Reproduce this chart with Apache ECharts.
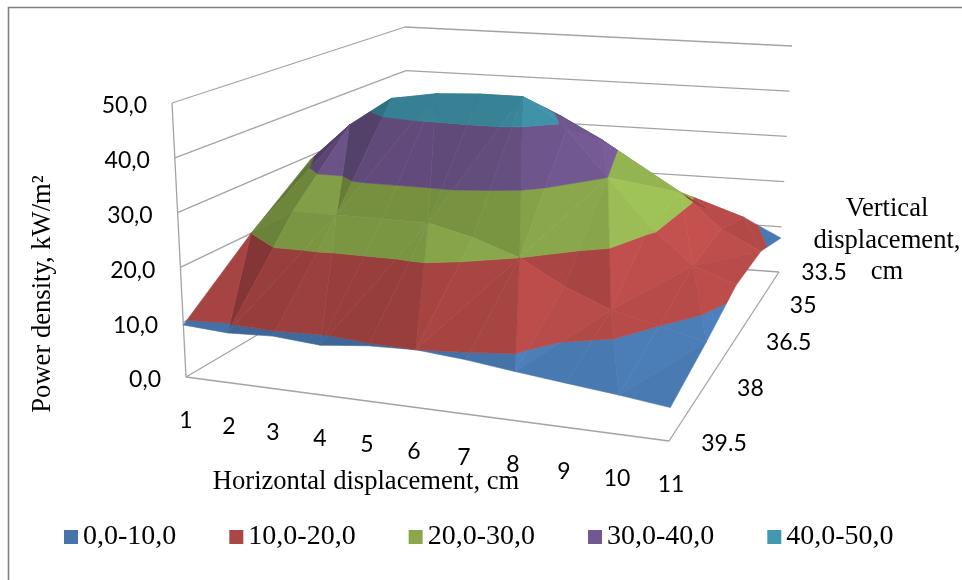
<!DOCTYPE html>
<html><head><meta charset="utf-8">
<style>html,body{margin:0;padding:0;background:#fff}#c{width:962px;height:580px}</style>
<script src="https://cdn.jsdelivr.net/npm/echarts@6/dist/echarts.min.js"></script>
</head><body><div id="c"></div>
<script>
// ---- data ----
const horizontalLabels = ['1','2','3','4','5','6','7','8','9','10','11'];
const verticalLabels = ['33.5','35','36.5','38','39.5'];
const zTicks = [0,10,20,30,40,50];
const zTickLabels = ['0,0','10,0','20,0','30,0','40,0','50,0'];
const bandNames = ['0,0-10,0','10,0-20,0','20,0-30,0','30,0-40,0','40,0-50,0'];
const bandLows = [0,10,20,30,40];
const bandHighs = [10,20,30,40,50];
const bandColors = ['#4674aa','#aa4644','#8aa84b','#725890','#4298af'];
const row335 = [28,30,32,32,30,26,21,17,13,11.5,7.5];
const row350 = [33,37,39,39,38.5,36.5,32,27,22,15,11];
const row365 = [29,37,43,44.5,45,45,39,30,21,14,11];
const row380 = [20,25,25,25,25,23,20,15.5,12,10,8];
const row395 = [9.5,9,9.4,8.8,9.7,10,9.3,8.3,7.4,6.5,5.5];
const surface = [row335,row350,row365,row380,row395];

// ---- box layout (pixels of the picture) ----
const floorQuad = [[410,245],[779,272],[669,441],[186,377]];
const topQuad = [[405,27],[792,46],[681,137],[172,103]];
const depthNudge = [[45,1],[45,2],[55,1],[46,2],[55,3]];
const frontTickX = [186,229,273,320,367,414,464,513,564,617,669];
function homography(q){
  const [p0,p1,p2,p3]=q;
  const dx1=p1[0]-p2[0],dx2=p3[0]-p2[0],sx=p0[0]-p1[0]+p2[0]-p3[0];
  const dy1=p1[1]-p2[1],dy2=p3[1]-p2[1],sy=p0[1]-p1[1]+p2[1]-p3[1];
  const den=dx1*dy2-dx2*dy1;
  const g=(sx*dy2-dx2*sy)/den,h=(dx1*sy-sx*dy1)/den;
  const a=p1[0]-p0[0]+g*p1[0],b=p3[0]-p0[0]+h*p3[0],c=p0[0];
  const d=p1[1]-p0[1]+g*p1[1],e=p3[1]-p0[1]+h*p3[1],f=p0[1];
  return (u,v)=>{const w=g*u+h*v+1;return [(a*u+b*v+c)/w,(d*u+e*v+f)/w];};
}
const floorH=homography(floorQuad), topH=homography(topQuad);
const nCols=horizontalLabels.length,nRows=verticalLabels.length,zMax=50;
// column spacing along the front edge follows the tick positions
const columnU=frontTickX.map(x=>{let lo=0,hi=1;for(let i=0;i<40;i++){const m=(lo+hi)/2;if(floorH(m,1)[0]<x)lo=m;else hi=m;}return (lo+hi)/2;});
function uOf(col){const i=Math.min(nCols-2,Math.floor(col));return columnU[i]+(columnU[i+1]-columnU[i])*(col-i);}
function project(col,row,z){
  const u=uOf(col),v=row/(nRows-1);
  const a=floorH(u,v),b=topH(u,v),t=z/zMax;
  return [a[0]+(b[0]-a[0])*t,a[1]+(b[1]-a[1])*t];
}

// ---- triangles of the surface, painter ordered ----
const tris=[];
for(let r=0;r<nRows-1;r++)for(let c=0;c<nCols-1;c++){
  const P=(rr,cc)=>[cc,rr,surface[rr][cc]];
  const A=P(r,c),B=P(r,c+1),C=P(r+1,c+1),D=P(r+1,c);
  const pair=((r+c)%2===0)?[[A,B,D],[B,C,D]]:[[A,B,C],[A,C,D]];
  pair.forEach((t,i)=>tris.push({t,order:r*1000+(100-Math.abs(c-6.5)*10)+i}));
}
tris.sort((a,b)=>a.order-b.order);
tris.forEach((t,i)=>t.z2=i+10);

function clip(poly,lo,hi){
  const cut=(pts,keep,level)=>{
    const out=[];
    for(let i=0;i<pts.length;i++){
      const a=pts[i],b=pts[(i+1)%pts.length];
      const ka=keep(a[2]),kb=keep(b[2]);
      if(ka)out.push(a);
      if(ka!==kb){const s=(level-a[2])/(b[2]-a[2]);out.push([a[0]+(b[0]-a[0])*s,a[1]+(b[1]-a[1])*s,level]);}
    }
    return out;
  };
  let p=cut(poly,z=>z>=lo,lo);
  if(p.length)p=cut(p,z=>z<=hi,hi);
  return p;
}
function shade(hex,t){
  const [a,b,c]=t;
  const k=0.08;
  const u=[b[0]-a[0],b[1]-a[1],(b[2]-a[2])*k],w=[c[0]-a[0],c[1]-a[1],(c[2]-a[2])*k];
  let n=[u[1]*w[2]-u[2]*w[1],u[2]*w[0]-u[0]*w[2],u[0]*w[1]-u[1]*w[0]];
  if(n[2]<0)n=n.map(x=>-x);
  const len=Math.hypot(n[0],n[1],n[2]);
  const dot=(n[0]*0.6+n[1]*0.2+n[2]*0.77)/len;
  const f=Math.min(1.22,0.42+0.75*dot);
  const ch=i=>Math.max(0,Math.min(255,Math.round(parseInt(hex.substr(i,2),16)*f)));
  return 'rgb('+ch(1)+','+ch(3)+','+ch(5)+')';
}

const serif='"Liberation Serif"';
const sans='Lato';
const lineColor='#a3a3a3';
function axesItem(params,api){
  const kids=[];
  const line=(p,q)=>{const a=api.coord(p),b=api.coord(q);kids.push({type:'line',z2:1,shape:{x1:a[0],y1:a[1],x2:b[0],y2:b[1]},style:{stroke:lineColor,lineWidth:1.3}});};
  const text=(p,s,align)=>{const a=api.coord(p);kids.push({type:'text',z2:2000,x:a[0],y:a[1],style:{text:s,fontFamily:sans,fontSize:23,fill:'#000',align:align,verticalAlign:'middle'}});};
  zTicks.forEach((z,i)=>{
    const f=project(0,nRows-1,z),b=project(0,0,z),r=project(nCols-1,0,z);
    line(f,b);line(b,r);
    text([f[0]-25,f[1]+3],zTickLabels[i],'right');
  });
  line(project(0,nRows-1,0),project(0,nRows-1,zMax));
  line(project(0,nRows-1,0),project(nCols-1,nRows-1,0));
  line(project(nCols-1,nRows-1,0),project(nCols-1,0,0));
  horizontalLabels.forEach((s,c)=>{const p=project(c,nRows-1,0);text([p[0]+(c===10?2:0),p[1]+44],s,'center');});
  verticalLabels.forEach((s,r)=>{const p=project(nCols-1,r,0);text([p[0]+depthNudge[r][0],p[1]+depthNudge[r][1]],s,'center');});
  return {type:'group',children:kids};
}
function bandRender(band){
  return function(params,api){
    const tri=tris[params.dataIndex];
    const poly=clip(tri.t,bandLows[band],bandHighs[band]);
    if(poly.length<3)return null;
    const pts=poly.map(p=>api.coord(project(p[0],p[1],p[2])));
    const col=shade(bandColors[band],tri.t);
    return {type:'polygon',z2:tri.z2,shape:{points:pts},style:{fill:col,stroke:col,lineWidth:0.6}};
  };
}
const triIds=tris.map((t,i)=>[i]);
const series=[{type:'custom',name:'axes',coordinateSystem:'cartesian2d',renderItem:axesItem,data:[[0]],encode:{x:0,y:0},silent:true,clip:false}];
bandNames.forEach((n,i)=>series.push({type:'custom',name:n,coordinateSystem:'cartesian2d',renderItem:bandRender(i),data:triIds,encode:{x:0,y:0},silent:true,clip:false,itemStyle:{color:bandColors[i]}}));

const titleStyle=(t,x,y,rot)=>({type:'text',x:x,y:y,rotation:rot||0,style:{text:t,fontFamily:serif,fontSize:26.6,fill:'#000',align:'center',verticalAlign:'middle'}});
const chart=echarts.init(document.getElementById('c'),null,{renderer:'canvas'});
chart.setOption({
  animation:false,
  backgroundColor:'#fff',
  grid:{left:0,right:0,top:0,bottom:0,containLabel:false},
  xAxis:{type:'value',min:0,max:962,show:false},
  yAxis:{type:'value',min:0,max:580,inverse:true,show:false},
  legend:{data:bandNames.map(n=>({name:n,icon:'rect'})),left:59,top:518,itemWidth:14,itemHeight:14,itemGap:53,
    textStyle:{fontFamily:serif,fontSize:28,color:'#000',padding:[0,0,0,0]},selectedMode:false},
  graphic:[
    {type:'polyline',shape:{points:[[8.5,580],[8.5,7.5],[962,7.5]]},style:{stroke:'#808080',lineWidth:1.6,fill:'none'}},
    titleStyle('Power density, kW/m\u00B2',43,294,Math.PI/2),
    titleStyle('Horizontal displacement, cm',366,482),
    titleStyle('Vertical',887,209),
    titleStyle('displacement,',887,241),
    titleStyle('cm',887,272)
  ],
  series:series
});
</script></body></html>
